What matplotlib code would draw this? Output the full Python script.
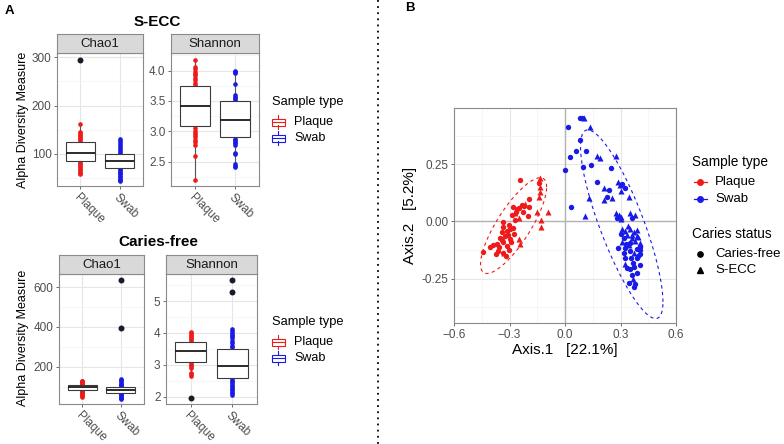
import numpy as np
import matplotlib
matplotlib.use("Agg")
import matplotlib.pyplot as plt
from matplotlib.patches import Rectangle

plt.rcParams['font.family'] = ['Liberation Sans', 'DejaVu Sans']

W, H = 784, 444
RED, BLUE = '#ee1b1b', '#1a1ae8'
GRID, GRID_MINOR = '#e6e6e6', '#f3f3f3'
BORDER = '#8a8a8a'
TICKC = '#4d4d4d'

# ---------------- data: alpha diversity (panel A) ----------------
groups = ["Plaque", "Swab"]

# visible sample points, S-ECC
secc_chao1_plaque = [161, 145, 142, 139, 136, 133, 130, 127, 84, 81, 78, 75, 72, 69, 66, 63, 60, 58]
secc_chao1_swab = [130, 126, 122, 118, 114, 110, 106, 102, 69, 66, 63, 60, 57, 54, 51, 48, 45, 43]
secc_shannon_plaque = [4.17, 4.06, 4.02, 3.98, 3.95, 3.92, 3.88, 3.85, 3.80, 3.76,
                       3.05, 3.00, 2.97, 2.94, 2.90, 2.86, 2.82, 2.78, 2.60, 2.20]
secc_shannon_swab = [4.00, 3.98, 3.96, 3.78, 3.60, 3.57, 3.55, 3.52,
                     2.88, 2.85, 2.82, 2.80, 2.78, 2.65, 2.63, 2.46, 2.43, 2.41]
# box stats: q1, median, q3, lower whisker, upper whisker
secc_chao1_box = [[85.5, 102, 125, 58, 161], [70, 85, 99, 43, 130]]
secc_chao1_out = [[294], []]
secc_shannon_box = [[3.09, 3.42, 3.74, 2.20, 4.17], [2.90, 3.19, 3.50, 2.41, 4.00]]
secc_shannon_out = [[], []]

# visible sample points, caries-free
cf_chao1_plaque = [130, 126, 122, 118, 114, 110, 80, 75, 70, 65, 60, 55, 50, 47]
cf_chao1_swab = [138, 132, 126, 120, 114, 108, 102, 68, 62, 56, 50, 44, 40, 36]
cf_shannon_plaque = [4.04, 4.00, 3.95, 3.90, 3.85, 3.80, 3.75, 3.05, 3.00, 2.95, 2.90, 2.75, 2.70, 2.65]
cf_shannon_swab = [4.11, 4.05, 4.00, 3.95, 3.90, 3.85, 3.75, 3.70, 3.60, 3.55,
                   2.55, 2.50, 2.45, 2.40, 2.35, 2.30, 2.25, 2.20, 2.15, 2.10, 2.05]
cf_chao1_box = [[81, 99, 109, 47, 130], [68, 83, 98, 36, 138]]
cf_chao1_out = [[], [393, 637]]
cf_shannon_box = [[3.08, 3.43, 3.71, 2.65, 4.04], [2.58, 2.97, 3.49, 2.05, 4.11]]
cf_shannon_out = [[1.95], [5.28, 5.66]]

# ---------------- data: PCoA (panel B) ----------------
plaque_cf_x = [-0.243, -0.138, -0.192, -0.195, -0.221, -0.246, -0.279, -0.264, -0.225, -0.198,
               -0.288, -0.333, -0.333, -0.301, -0.279, -0.311, -0.342, -0.275, -0.324, -0.351,
               -0.297, -0.333, -0.369, -0.387, -0.355, -0.315, -0.301, -0.333, -0.373, -0.442,
               -0.405, -0.260, -0.235, -0.310, -0.290, -0.360, -0.320, -0.300, -0.340, -0.270]
plaque_cf_y = [0.181, 0.170, 0.096, 0.064, 0.068, 0.057, 0.064, 0.042, 0.042, 0.025,
               0.028, -0.004, -0.024, -0.016, -0.028, -0.041, -0.045, -0.053, -0.063, -0.074,
               -0.077, -0.092, -0.099, -0.104, -0.111, -0.108, -0.125, -0.136, -0.143, -0.133,
               -0.111, 0.055, 0.070, -0.060, -0.090, -0.130, -0.150, -0.035, -0.080, 0.005]
plaque_secc_x = [-0.134, -0.134, -0.138, -0.092, -0.152, -0.246, -0.130, -0.128,
                 -0.246, -0.243, -0.329, -0.270, -0.215, -0.134]
plaque_secc_y = [0.192, 0.129, 0.108, 0.042, 0.042, 0.016, 0.008, -0.026,
                 -0.077, -0.100, -0.140, 0.035, 0.075, 0.150]
swab_cf_x = [0.092, 0.083, 0.014, 0.083, 0.061, 0.116, 0.029, 0.002, 0.098, 0.143,
             0.246, 0.174, 0.327, 0.309, 0.237, 0.228, 0.031, 0.282, 0.363, 0.304,
             0.318, 0.405, 0.354, 0.285, 0.327, 0.405, 0.405, 0.322, 0.358, 0.387,
             0.405, 0.336, 0.372, 0.363, 0.387, 0.345, 0.376, 0.372,
             0.350, 0.390, 0.320, 0.370, 0.350, 0.330, 0.395]
swab_cf_y = [0.451, 0.452, 0.411, 0.355, 0.306, 0.309, 0.280, 0.224, 0.236, 0.245,
             0.233, 0.172, 0.146, 0.163, 0.138, 0.109, 0.061, 0.013, 0.013, -0.057,
             -0.074, -0.111, -0.096, -0.115, -0.118, -0.125, -0.144, -0.159, -0.159, -0.162,
             -0.191, -0.205, -0.198, -0.235, -0.227, -0.271, -0.275, -0.285,
             -0.130, -0.120, -0.140, -0.180, -0.210, -0.100, -0.150]
swab_secc_x = [0.101, 0.137, 0.174, 0.188, 0.273, 0.286, 0.297, 0.210, 0.300, 0.345,
               0.128, 0.255, 0.213, 0.107, 0.273, 0.291, 0.304, 0.354, 0.381, 0.309,
               0.327, 0.354, 0.372, 0.387, 0.336, 0.363, 0.405, 0.372, 0.327, 0.370,
               0.380, 0.390, 0.340, 0.360, 0.310, 0.345, 0.395, 0.300]
swab_secc_y = [0.451, 0.411, 0.284, 0.277, 0.284, 0.172, 0.160, 0.146, 0.134, 0.109,
               0.102, 0.102, 0.094, 0.025, 0.035, 0.028, 0.010, 0.035, 0.028, -0.031,
               -0.042, -0.031, -0.045, -0.038, -0.060, -0.074, -0.096, -0.140, -0.184, -0.250,
               -0.085, -0.065, -0.020, -0.060, -0.090, -0.105, -0.070, 0.020]


def rect(x0, y0, x1, y1):
    return [x0 / W, 1 - y1 / H, (x1 - x0) / W, (y1 - y0) / H]


def style_axes(ax, fs=8.5):
    ax.set_facecolor('white')
    for s in ax.spines.values():
        s.set_color(BORDER)
        s.set_linewidth(0.8)
    ax.tick_params(length=2.5, width=0.6, color='#555555', labelcolor=TICKC, labelsize=fs, pad=1.5)
    ax.grid(True, which='major', color=GRID, lw=0.8, zorder=0)
    ax.grid(True, which='minor', color=GRID_MINOR, lw=0.5, zorder=0)
    ax.set_axisbelow(True)


def box_panel(fig, pos, strip_h, title, pts, boxes, outs, ylim, yticks, yminor, fmt):
    ax = fig.add_axes(rect(*pos))
    style_axes(ax)
    for i, (vals, col) in enumerate(zip(pts, [RED, BLUE])):
        ax.scatter([i + 1] * len(vals), vals, s=11, color=col, lw=0, zorder=2)
    stats = [dict(q1=b[0], med=b[1], q3=b[2], whislo=b[3], whishi=b[4], fliers=o)
             for b, o in zip(boxes, outs)]
    bp = ax.bxp(stats, positions=[1, 2], widths=0.75, patch_artist=True, showcaps=False,
                boxprops=dict(facecolor='white', edgecolor='#3a3a3a', lw=0.8),
                medianprops=dict(color='#1a1a1a', lw=1.3),
                whiskerprops=dict(color='#555555', lw=0.8),
                flierprops=dict(marker='o', markerfacecolor='#1a1a2a', markeredgecolor='none',
                                markersize=4.3),
                zorder=3)
    for w in bp['whiskers']:
        w.set_zorder(1.5)
    ax.set_xlim(0.4, 2.6)
    ax.set_ylim(*ylim)
    ax.set_yticks(yticks)
    ax.set_yticks(yminor, minor=True)
    ax.tick_params(which='minor', length=0)
    ax.set_yticklabels([fmt.format(v) for v in yticks])
    ax.set_xticks([1, 2])
    ax.set_xticklabels(groups, rotation=-45, ha='left', va='top', rotation_mode='anchor',
                       fontsize=8.5)
    # facet strip
    x0, y0, x1, y1 = pos
    st = fig.add_axes(rect(x0, y0 - strip_h, x1, y0))
    st.set_facecolor('#d9d9d9')
    st.set_xticks([])
    st.set_yticks([])
    for s in st.spines.values():
        s.set_color(BORDER)
        s.set_linewidth(0.8)
    st.text(0.5, 0.45, title, ha='center', va='center', fontsize=9.5, color='#1a1a1a',
            transform=st.transAxes)
    return ax


def ellipse_xy(x, y, level=0.95, nseg=120, nu=5):
    # robust multivariate-t scatter (like MASS::cov.trob used by stat_ellipse)
    pts = np.c_[x, y]
    n, p = pts.shape
    loc = pts.mean(axis=0)
    w = np.ones(n)
    for _ in range(200):
        w0 = w
        X = pts - loc
        cov = (X * (w / w.sum())[:, None]).T @ X
        Q = np.einsum('ij,jk,ik->i', X, np.linalg.inv(cov), X)
        w = (nu + p) / (nu + Q)
        loc = (w[:, None] * pts).sum(axis=0) / w.sum()
        if np.all(np.abs(w - w0) < 1e-7):
            break
    X = pts - loc
    cov = (X * w[:, None]).T @ X / n
    d2 = n - 1
    fq = d2 / 2 * ((1 - level) ** (-2 / d2) - 1)
    r = np.sqrt(2 * fq)
    L = np.linalg.cholesky(cov)
    t = np.linspace(0, 2 * np.pi, nseg)
    circ = np.c_[np.cos(t), np.sin(t)]
    e = loc + r * circ @ L.T
    return e[:, 0], e[:, 1]


fig = plt.figure(figsize=(W / 100, H / 100), dpi=100)

# ---- panel A, top (S-ECC) ----
box_panel(fig, (57, 53, 143, 186), 19, "Chao1",
          [secc_chao1_plaque, secc_chao1_swab], secc_chao1_box, secc_chao1_out,
          (33, 309), [100, 200, 300], [50, 150, 250], "{:.0f}")
box_panel(fig, (171, 53, 259, 186), 19, "Shannon",
          [secc_shannon_plaque, secc_shannon_swab], secc_shannon_box, secc_shannon_out,
          (2.1, 4.29), [2.5, 3.0, 3.5, 4.0], [2.25, 2.75, 3.25, 3.75, 4.25], "{:.1f}")
# ---- panel A, bottom (caries-free) ----
box_panel(fig, (59, 274, 144, 404), 19, "Chao1",
          [cf_chao1_plaque, cf_chao1_swab], cf_chao1_box, cf_chao1_out,
          (12, 667), [200, 400, 600], [100, 300, 500], "{:.0f}")
box_panel(fig, (166, 274, 257, 404), 19, "Shannon",
          [cf_shannon_plaque, cf_shannon_swab], cf_shannon_box, cf_shannon_out,
          (1.77, 5.85), [2, 3, 4, 5], [2.5, 3.5, 4.5, 5.5], "{:.0f}")

# ---- panel B (PCoA) ----
axb = fig.add_axes(rect(454, 108, 676, 323))
style_axes(axb, fs=8.5)
axb.axhline(0, color='#b3b3b3', lw=1.0, zorder=1)
axb.axvline(0, color='#b3b3b3', lw=1.0, zorder=1)
axb.scatter(plaque_cf_x, plaque_cf_y, s=15, marker='o', color=RED, lw=0, zorder=3)
axb.scatter(plaque_secc_x, plaque_secc_y, s=19, marker='^', color=RED, lw=0, zorder=3)
axb.scatter(swab_cf_x, swab_cf_y, s=15, marker='o', color=BLUE, lw=0, zorder=3)
axb.scatter(swab_secc_x, swab_secc_y, s=19, marker='^', color=BLUE, lw=0, zorder=3)
ex, ey = ellipse_xy(plaque_cf_x + plaque_secc_x, plaque_cf_y + plaque_secc_y)
axb.plot(ex, ey, color=RED, lw=0.8, ls=(0, (3, 3)), zorder=2)
ex, ey = ellipse_xy(swab_cf_x + swab_secc_x, swab_cf_y + swab_secc_y)
axb.plot(ex, ey, color=BLUE, lw=0.8, ls=(0, (3, 3)), zorder=2)
axb.set_xlim(-0.6, 0.6)
axb.set_ylim(-0.444, 0.496)
axb.set_xticks([-0.6, -0.3, 0.0, 0.3, 0.6])
axb.set_xticks([-0.45, -0.15, 0.15, 0.45], minor=True)
axb.set_yticks([-0.25, 0.0, 0.25])
axb.set_yticks([-0.375, -0.125, 0.125, 0.375], minor=True)
axb.tick_params(which='minor', length=0)
axb.set_yticklabels(['-0.25', '0.00', '0.25'])
axb.set_xlabel("Axis.1   [22.1%]", fontsize=11, labelpad=2)
axb.set_ylabel("Axis.2   [5.2%]", fontsize=11, labelpad=3)

# ---- overlay: labels, legends, separator ----
ov = fig.add_axes([0, 0, 1, 1], zorder=-1)
ov.set_xlim(0, W)
ov.set_ylim(H, 0)
ov.axis('off')

ov.text(5, 11, "A", fontsize=9.5, fontweight='bold', va='center')
ov.text(405, 8, "B", fontsize=9.5, fontweight='bold', va='center')
ov.text(157, 22, "S-ECC", fontsize=11, fontweight='bold', ha='center', va='center')
ov.text(158, 242, "Caries-free", fontsize=11, fontweight='bold', ha='center', va='center')
ov.text(23, 120, "Alpha Diversity Measure", fontsize=9, rotation=90, ha='center', va='center')
ov.text(23, 338, "Alpha Diversity Measure", fontsize=9, rotation=90, ha='center', va='center')
ov.plot([378, 378], [0, H], color='black', lw=1.3, ls=(0, (1, 2.4)))


def box_key(x, y, col):
    ov.add_patch(Rectangle((x + 1, y - 3.5), 13, 7, fill=False, ec=col, lw=0.8))
    ov.plot([x + 1, x + 14], [y, y], color=col, lw=0.8)
    ov.plot([x + 7.5, x + 7.5], [y - 7, y - 3.5], color=col, lw=0.8)
    ov.plot([x + 7.5, x + 7.5], [y + 3.5, y + 7], color=col, lw=0.8)


for ty in (102, 322):
    ov.text(272, ty, "Sample type", fontsize=9.3, va='center')
    for k, (lab, col) in enumerate(zip(groups, [RED, BLUE])):
        yy = ty + 20 + 16 * k
        box_key(271, yy, col)
        ov.text(294, yy, lab, fontsize=9, va='center')

ov.text(692, 162, "Sample type", fontsize=9.8, va='center')
for k, (lab, col) in enumerate(zip(groups, [RED, BLUE])):
    yy = 182 + 17 * k
    ov.plot([694, 707], [yy, yy], color=col, lw=0.9)
    ov.plot([700.5], [yy], marker='o', color=col, markersize=4, lw=0)
    ov.text(715, yy, lab, fontsize=9.5, va='center')
ov.text(692, 234, "Caries status", fontsize=9.8, va='center')
for k, (lab, mk) in enumerate(zip(["Caries-free", "S-ECC"], ['o', '^'])):
    yy = 254 + 16 * k
    ov.plot([700.5], [yy], marker=mk, color='black', markersize=3.8, lw=0)
    ov.text(715, yy, lab, fontsize=9.5, va='center')

fig.savefig("out.png", dpi=100)
